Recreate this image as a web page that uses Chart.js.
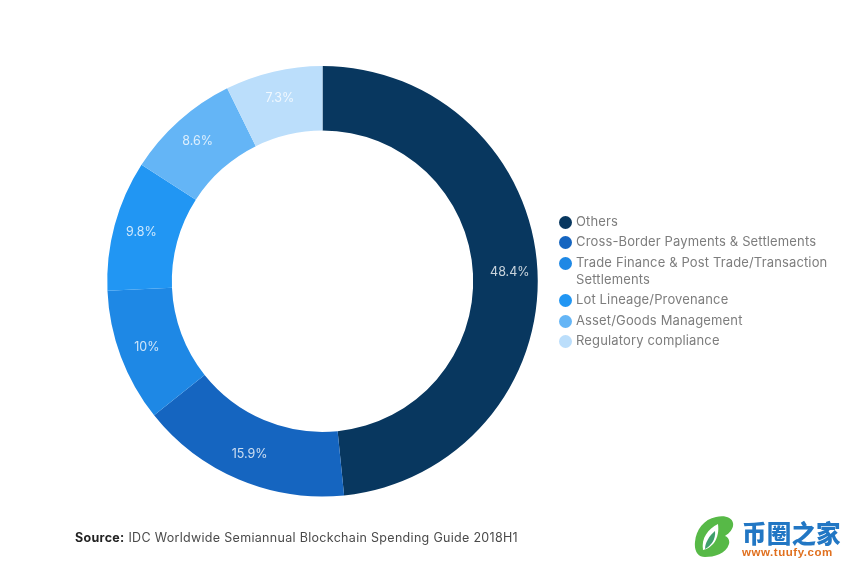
<!DOCTYPE html>
<html>
<head>
<meta charset="utf-8">
<script src="https://cdn.jsdelivr.net/npm/chart.js@4/dist/chart.umd.js"></script>
<style>
html,body{margin:0;padding:0;background:#fff;width:853px;height:564px;overflow:hidden}
#wrap{position:relative;width:853px;height:564px;font-family:Inter,"Open Sans",sans-serif}
canvas{position:absolute;left:0;top:0}
#legend{position:absolute;left:559px;top:212.5px;width:280px;color:#7d7d7d;font-size:13px;line-height:17px;letter-spacing:.14px}
.item{position:relative;padding-left:17px;margin-bottom:3.6px}
.dot{position:absolute;left:0;top:3px;width:13px;height:13px;border-radius:50%}
#source{position:absolute;left:75px;top:530px;font-size:12.5px;color:#4a4a4a;line-height:16px;white-space:nowrap;letter-spacing:.31px}
#source b{color:#222}
#logo{position:absolute;left:694px;top:516px;width:42px;height:42px}
#brand{position:absolute;left:742px;top:519px;font-family:"Noto Sans CJK SC",sans-serif;font-weight:900;font-size:24.5px;line-height:28px;color:#2277c4;letter-spacing:.2px;white-space:nowrap}
#url{position:absolute;left:742px;top:546px;font-family:"Liberation Sans",sans-serif;font-weight:700;font-size:11.5px;line-height:13px;color:#e0701f;letter-spacing:.55px;white-space:nowrap}
</style>
</head>
<body>
<div id="wrap">
<canvas id="c" width="853" height="564"></canvas>
<div id="legend"></div>
<div id="source"><b>Source:</b> IDC Worldwide Semiannual Blockchain Spending Guide 2018H1</div>
<svg id="logo" viewBox="0 0 42 42">
<path d="M22 1C10 3 2 14 1 26c-1 9 3 15 10 15 9 0 21-3 24-13 1-4-1-7-4-8 5-3 9-8 8-13-1-6-9-8-17-6z" fill="#57b947"/>
<path d="M24 8C14 13 7 22 9 34c9-2 17-11 15-26z" fill="#fff"/>
<path d="M21 15C15 20 11 27 11 33c6-3 11-10 10-18z" fill="#3f9f6c"/>
</svg>
<div id="brand">币圈之家</div>
<div id="url">www.tuufy.com</div>
</div>
<script>
const categories = ["Others","Cross-Border Payments & Settlements","Trade Finance & Post Trade/Transaction Settlements","Lot Lineage/Provenance","Asset/Goods Management","Regulatory compliance"];
const values = [48.4,15.9,10,9.8,8.6,7.3];
const valueLabels = ["48.4%","15.9%","10%","9.8%","8.6%","7.3%"];
const colors = ["#08375f","#1565c0","#1e88e5","#2196f3","#64b5f6","#bbdefb"];

const legendEl = document.getElementById('legend');
categories.forEach((name,i)=>{
  const d=document.createElement('div');d.className='item';
  const s=document.createElement('span');s.className='dot';s.style.background=colors[i];
  d.appendChild(s);d.appendChild(document.createTextNode(name));legendEl.appendChild(d);
});

const sliceLabels = {
  id:'sliceLabels',
  afterDatasetsDraw(chart){
    const {ctx}=chart;
    ctx.save();
    ctx.font='12.5px Inter, "Open Sans", sans-serif';
    ctx.fillStyle='rgba(255,255,255,0.78)';
    ctx.textAlign='center';ctx.textBaseline='middle';
    chart.getDatasetMeta(0).data.forEach((arc,i)=>{
      const p=arc.tooltipPosition();
      const k=1.025;
      ctx.fillText(valueLabels[i],arc.x+(p.x-arc.x)*k,arc.y+(p.y-arc.y)*k);
    });
    ctx.restore();
  }
};

new Chart(document.getElementById('c'),{
  type:'doughnut',
  data:{labels:categories,datasets:[{data:values,backgroundColor:colors,borderWidth:0}]},
  options:{
    responsive:false,animation:false,cutout:'70%',
    layout:{padding:{left:107,right:315,top:66,bottom:67.5}},
    plugins:{legend:{display:false},tooltip:{enabled:false},title:{display:false}}
  },
  plugins:[sliceLabels]
});
</script>
</body>
</html>
